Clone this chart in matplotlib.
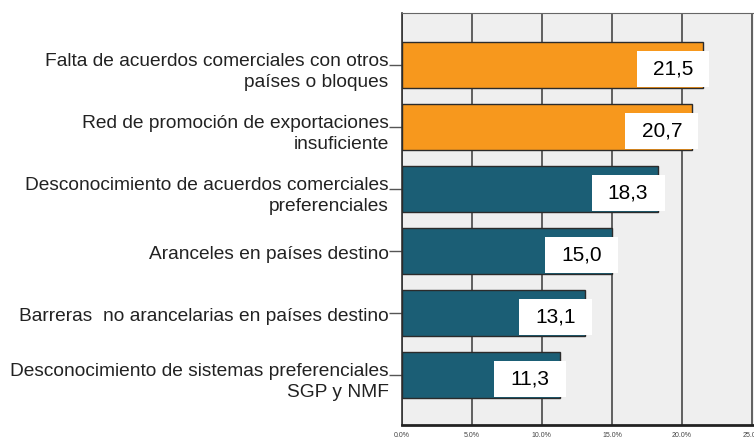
import matplotlib.pyplot as plt
from matplotlib.patches import Rectangle
from matplotlib.ticker import FuncFormatter

plt.rcParams['font.family'] = ['Liberation Sans', 'DejaVu Sans']

categories = [
    "Falta de acuerdos comerciales con otros\npaíses o bloques",
    "Red de promoción de exportaciones\ninsuficiente",
    "Desconocimiento de acuerdos comerciales\npreferenciales",
    "Aranceles en países destino",
    "Barreras  no arancelarias en países destino",
    "Desconocimiento de sistemas preferenciales\nSGP y NMF",
]
values = [21.5, 20.7, 18.3, 15.0, 13.1, 11.3]
value_labels = ["21,5", "20,7", "18,3", "15,0", "13,1", "11,3"]
highlight = [True, True, False, False, False, False]
xticks = [0, 5, 10, 15, 20, 25]

orange = "#f7981d"
teal = "#1b5e75"

fig = plt.figure(figsize=(7.54, 4.40), dpi=100)
ax = fig.add_axes([401.7 / 754, 1 - 425 / 440, 1 - 401.7 / 754, (425 - 13.3) / 440])
ax.set_facecolor("#efefef")

ypos = list(range(len(categories)))
colors = [orange if h else teal for h in highlight]
ax.barh(ypos, values, height=0.742, color=colors, edgecolor="#2b2b2b",
        linewidth=1.0, zorder=3)

ax.set_xlim(0, 25.13)
ax.set_ylim(5.806, -0.834)

# white value boxes
for y, v, lab in zip(ypos, values, value_labels):
    cx = v - 2.15
    cy = y + 0.065
    ax.add_patch(Rectangle((cx - 2.6, cy - 0.29), 5.2, 0.58, facecolor="white",
                           edgecolor="none", zorder=4))
    ax.text(cx, cy, lab, ha="center", va="center", fontsize=15, color="black",
            zorder=5)

# category labels with short leader ticks
for y, lab in zip(ypos, categories):
    two = "\n" in lab
    dy = 12 if two else 5.5
    ax.annotate(lab, xy=(0, y), xycoords=("axes fraction", "data"),
                xytext=(-13, dy), textcoords="offset pixels",
                ha="right", va="top", fontsize=13.8, color="#222222",
                linespacing=1.28, annotation_clip=False)
ax.set_yticks(ypos)
ax.set_yticklabels([])
ax.tick_params(axis="y", length=9.5, width=1.0, color="#555555", direction="out")

ax.set_xticks(xticks)
ax.xaxis.set_major_formatter(FuncFormatter(lambda x, p: f"{x:.1f}%"))
ax.tick_params(axis="x", length=0, pad=5, labelsize=5, labelcolor="#444444")
ax.grid(axis="x", color="#555555", linewidth=1.3, zorder=0)
ax.set_axisbelow(True)

ax.spines["left"].set_color("#333333")
ax.spines["left"].set_linewidth(1.2)
ax.spines["bottom"].set_color("#222222")
ax.spines["bottom"].set_linewidth(2.0)
ax.spines["top"].set_color("#666666")
ax.spines["right"].set_visible(False)

fig.savefig("out.png", dpi=100)
